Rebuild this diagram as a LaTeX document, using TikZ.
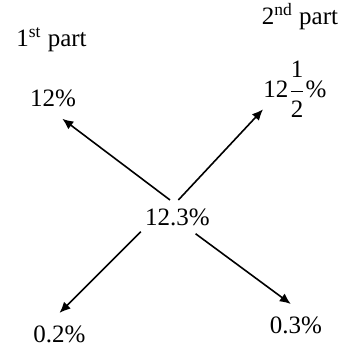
\documentclass[tikz,border=0pt]{standalone}
\usepackage{fontspec}
\setmainfont{Liberation Serif}
\usepackage{tikz}
\usetikzlibrary{arrows.meta}

\begin{document}
\begin{tikzpicture}[
  x=0.5pt, y=-0.5pt,
  font=\fontsize{12.5}{15}\selectfont,
  head/.style={anchor=base, inner sep=0pt},
  val/.style={anchor=base, inner sep=6pt},
  frac/.style={anchor=base, inner sep=0pt},
  mid/.style={anchor=base, inner xsep=2pt, inner ysep=4pt},
  arr/.style={-{Latex[length=5.5pt, width=4.8pt]}, line width=0.8pt}
]
\useasboundingbox (0,0) rectangle (342,345);
\node[head] (first) at (51.5,46) {1\textsuperscript{st} part};
\node[head] (second) at (300,24) {2\textsuperscript{nd} part};
\node[val] (whole) at (53,106) {12\%};
\node[frac] (half) at (295,97) {12$\displaystyle\frac{\raisebox{1.5pt}{1}}{\raisebox{-2pt}{2}}$\%};
\node[mid] (rate) at (177.5,225) {12.3\%};
\node[val] (lowl) at (59.5,342) {0.2\%};
\node[val] (lowr) at (296,333) {0.3\%};
\draw[arr] (rate.114) -- (whole.-66);
\draw[arr] (rate.87) -- (half.212);
\draw[arr] (rate.202) -- (lowl.north);
\draw[arr] (rate.-43) -- (lowr.104);
\end{tikzpicture}
\end{document}
